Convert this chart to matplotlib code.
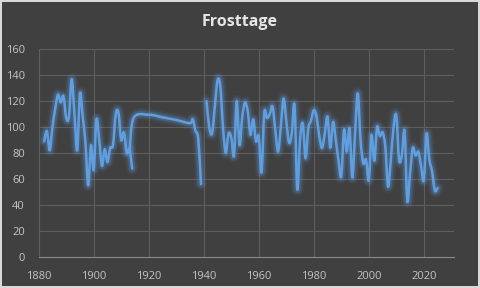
import matplotlib
matplotlib.use("Agg")
import matplotlib.pyplot as plt
import numpy as np
from matplotlib.path import Path
from matplotlib.patches import PathPatch

# Frosttage (days with frost) per year, three separate pieces of the record
years_a = list(range(1882, 1915))
frost_a = [89, 97, 82, 100, 114, 125, 119, 124, 107, 108,
           137, 110, 82, 126, 108, 88, 55, 86, 67, 106,
           90, 70, 83, 73, 84, 86, 110, 111, 90, 96,
           80, 83, 68]

years_b = [1913, 1914.5, 1920, 1925, 1930, 1935, 1936, 1937, 1938, 1939]
frost_b = [80, 107, 109.5, 107.5, 105.5, 103, 106, 97, 91, 56]

years_c = list(range(1941, 2026))
frost_c = [120, 100, 95, 115, 136, 132, 100, 80, 95, 92,
           78, 120, 86, 108, 119, 112, 94, 106, 89, 93,
           65, 111, 107, 110, 116, 98, 81, 100, 122, 105,
           88, 95, 117, 52, 90, 103, 76, 99, 105, 113,
           108, 93, 84, 95, 108, 84, 104, 90, 74, 62,
           98, 81, 99, 61, 95, 126, 90, 72, 75, 59,
           94, 74, 100, 93, 96, 85, 54, 75, 100, 109,
           75, 78, 97, 43, 65, 84, 78, 81, 70, 59,
           95, 75, 66, 51, 53]

xticks = [1880, 1900, 1920, 1940, 1960, 1980, 2000, 2020]
yticks = [0, 20, 40, 60, 80, 100, 120, 140, 160]

bg = "#404040"
line_col = "#5f9fe0"


def smooth_path(xs, ys):
    # excel-like smoothed line: cubic bezier through every point
    x = np.asarray(xs, float)
    y = np.asarray(ys, float)
    n = len(x)
    verts = [(x[0], y[0])]
    codes = [Path.MOVETO]
    for i in range(n - 1):
        p0 = (x[max(i - 1, 0)], y[max(i - 1, 0)])
        p1 = (x[i], y[i])
        p2 = (x[i + 1], y[i + 1])
        p3 = (x[min(i + 2, n - 1)], y[min(i + 2, n - 1)])
        c1 = (p1[0] + (p2[0] - p0[0]) / 6, p1[1] + (p2[1] - p0[1]) / 6)
        c2 = (p2[0] - (p3[0] - p1[0]) / 6, p2[1] - (p3[1] - p1[1]) / 6)
        verts += [c1, c2, p2]
        codes += [Path.CURVE4] * 3
    return Path(verts, codes)


fig = plt.figure(figsize=(4.8, 2.88), dpi=100)
fig.patch.set_facecolor(bg)
fig.patch.set_edgecolor("#d9d9d9")
fig.patch.set_linewidth(1.5)
ax = fig.add_axes([0.0806, 0.1087, 0.8654, 0.7201])
ax.set_facecolor(bg)

for xs, ys in [(years_a, frost_a), (years_b, frost_b), (years_c, frost_c)]:
    p = smooth_path(xs, ys)
    # glow
    for lw, a in [(9, 0.07), (6.5, 0.12), (4.5, 0.2)]:
        ax.add_patch(PathPatch(p, fill=False, edgecolor=line_col, lw=lw,
                               alpha=a, capstyle="round", joinstyle="round"))
    ax.add_patch(PathPatch(p, fill=False, edgecolor=line_col, lw=1.8,
                           capstyle="round", joinstyle="round"))

ax.set_xlim(1880, 2031)
ax.set_ylim(0, 160)
ax.set_xticks(xticks)
ax.set_yticks(yticks)
ax.grid(True, color="#5e5e5e", lw=0.8)
ax.set_axisbelow(True)
for s in ["top", "right"]:
    ax.spines[s].set_visible(False)
ax.spines["left"].set_color("#5e5e5e")
ax.spines["bottom"].set_color("#8a8a8a")
ax.tick_params(length=0, colors="#c4c4c4", labelsize=8, pad=10)
for lab in ax.get_xticklabels() + ax.get_yticklabels():
    lab.set_family("Open Sans")

fig.text(0.5, 0.924, "Frosttage", ha="center", va="center", color="#e6e6e6",
         fontsize=11.5, fontweight="bold", family="Open Sans")

fig.savefig("out.png", dpi=100, facecolor=bg, edgecolor=fig.get_edgecolor())
